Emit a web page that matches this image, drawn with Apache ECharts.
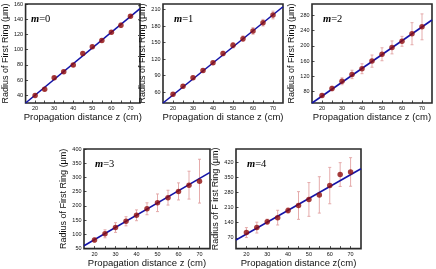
<!DOCTYPE html>
<html>
<head>
<meta charset="utf-8">
<script src="https://cdn.jsdelivr.net/npm/echarts@6/dist/echarts.min.js"></script>
<style>html,body{margin:0;padding:0;background:#fff;}#c{width:436px;height:269px;}</style>
</head>
<body>
<div id="c"></div>
<script>
// ---- data ----
const z = [20, 25, 30, 35, 40, 45, 50, 55, 60, 65, 70];
const r0 = [40, 48, 63, 71, 80, 95, 104, 112, 123, 132, 144];
const e0 = [2, 2, 2, 2, 2, 2, 2, 2, 2, 3, 2];
const r1 = [56, 70.5, 86, 99, 113, 130, 145, 157, 171, 186, 200];
const e1 = [3, 3, 3, 3, 3, 4, 5, 5, 6, 6, 7];
const r2 = [70, 88, 107, 125, 140, 160, 178, 196, 212, 232, 250];
const e2 = [4, 6, 9, 11, 13, 16, 17, 17, 13, 29, 34];
const r3 = [80, 102, 124, 146, 167, 190, 211, 229, 251, 273, 287];
const e3 = [7, 14, 17, 16, 19, 21, 31, 26, 30, 49, 77];
const r4 = [94, 117, 144, 163, 196, 219, 247, 268, 311, 362, 374];
const e4 = [23, 25, 12, 34, 12, 64, 78, 84, 84, 55, 66];
const fitZ = [15, 75];
const f0 = [30, 154];
const f1 = [40, 215];
const f2 = [50, 268];
const f3 = [60, 318];
const f4 = [60, 389];
const xTicks = [20, 30, 40, 50, 60, 70];
const xMinorTicks = [20, 25, 30, 35, 40, 45, 50, 55, 60, 65, 70];
const yTicks0 = [40, 60, 80, 100, 120, 140, 160];
const yTicks1 = [60, 90, 120, 150, 180, 210];
const yTicks2 = [80, 120, 160, 200, 240, 280];
const yTicks3 = [50, 100, 150, 200, 250, 300, 350, 400];
const yTicks4 = [70, 140, 210, 280, 350, 420];
const mLabels = ['0', '1', '2', '3', '4'];
const yNames = ['Radius of First Ring (\u03bcm)', 'Radius of First Ring (\u03bcm)', 'Radius of First Ring (\u03bcm)', 'Radius of First Ring (\u03bcm)', 'Radius of F irst Ring (\u03bcm)'];
const xNames = ['Propagation distance z (cm)', 'Propagation di stance z (cm)', 'Propagation distance z (cm)', 'Propagation distance z (cm)', 'Propagation distance z(cm)'];

// ---- layout ----
const panels = [
  {grid: {left: 20, top: 4, width: 120, height: 99}, yMin: 30, yMax: 160, yT: yTicks0, r: r0, e: e0, f: f0, gap: 10},
  {grid: {left: 163, top: 4, width: 120, height: 99}, yMin: 40, yMax: 220, yT: yTicks1, r: r1, e: e1, f: f1, gap: 12},
  {grid: {left: 312, top: 4, width: 120, height: 99}, yMin: 50, yMax: 310, yT: yTicks2, r: r2, e: e2, f: f2, gap: 13},
  {grid: {left: 84, top: 149, width: 126, height: 100}, yMin: 50, yMax: 400, yT: yTicks3, r: r3, e: e3, f: f3, gap: 14},
  {grid: {left: 236, top: 149, width: 125, height: 100}, yMin: 20, yMax: 480, yT: yTicks4, r: r4, e: e4, f: f4, gap: 12.5}
];

const font = '"Liberation Sans", Arial, sans-serif';
const grid = [], xAxis = [], yAxis = [], series = [], graphic = [];

panels.forEach((p, i) => {
  grid.push(Object.assign({show: true, borderColor: '#2a2a2a', borderWidth: 1.6, backgroundColor: '#fff', containLabel: false}, p.grid));
  xAxis.push({
    type: 'value', gridIndex: i, min: 15, max: 75,
    name: xNames[i], nameLocation: 'middle', nameGap: 5,
    nameTextStyle: {fontFamily: font, fontSize: 9.5, color: '#111', verticalAlign: 'top'},
    axisLine: {show: false},
    axisTick: {show: true, inside: true, length: 2.5, customValues: xMinorTicks, lineStyle: {color: '#222', width: 0.8}},
    axisLabel: {customValues: xTicks, fontFamily: font, fontSize: 5.5, color: '#111', margin: 2.5},
    splitLine: {show: false}
  });
  yAxis.push({
    type: 'value', gridIndex: i, min: p.yMin, max: p.yMax,
    name: yNames[i], nameLocation: 'middle', nameGap: p.gap, nameRotate: 90,
    nameTextStyle: {fontFamily: font, fontSize: 9, color: '#111'},
    axisLine: {show: false},
    axisTick: {show: true, inside: true, length: 2.5, customValues: p.yT, lineStyle: {color: '#222', width: 0.8}},
    axisLabel: {customValues: p.yT, fontFamily: font, fontSize: 5.5, color: '#111', margin: 2.5},
    splitLine: {show: false}
  });
  series.push({
    type: 'custom', xAxisIndex: i, yAxisIndex: i, z: 2,
    data: z.map((v, k) => [v, p.r[k] - p.e[k], p.r[k] + p.e[k]]),
    renderItem: function (params, api) {
      const lo = api.coord([api.value(0), api.value(1)]);
      const hi = api.coord([api.value(0), api.value(2)]);
      const w = 1.5;
      const st = {stroke: '#e2a3a3', lineWidth: 0.9};
      return {type: 'group', children: [
        {type: 'line', shape: {x1: lo[0], y1: lo[1], x2: hi[0], y2: hi[1]}, style: st},
        {type: 'line', shape: {x1: lo[0] - w, y1: lo[1], x2: lo[0] + w, y2: lo[1]}, style: st},
        {type: 'line', shape: {x1: hi[0] - w, y1: hi[1], x2: hi[0] + w, y2: hi[1]}, style: st}
      ]};
    }
  });
  series.push({
    type: 'line', xAxisIndex: i, yAxisIndex: i, z: 3, clip: true,
    data: fitZ.map((v, k) => [v, p.f[k]]),
    symbol: 'none', lineStyle: {color: '#1414a8', width: 1.6}, silent: true
  });
  series.push({
    type: 'scatter', xAxisIndex: i, yAxisIndex: i, z: 4,
    data: z.map((v, k) => [v, p.r[k]]),
    symbol: 'circle', symbolSize: 5.5, itemStyle: {color: '#8e0d0d'}
  });
  graphic.push({
    type: 'text', left: p.grid.left + 11, top: p.grid.top + 10, z: 100,
    style: {
      text: '{i|m}{n|=' + mLabels[i] + '}',
      rich: {
        i: {fontFamily: '"Liberation Serif", "Times New Roman", serif', fontStyle: 'italic', fontSize: 10.5, fill: '#000', fontWeight: 'bold'},
        n: {fontFamily: '"Liberation Serif", "Times New Roman", serif', fontSize: 10.5, fill: '#000'}
      }
    }
  });
});

const chart = echarts.init(document.getElementById('c'), null, {renderer: 'canvas'});
chart.setOption({animation: false, backgroundColor: '#fff', grid, xAxis, yAxis, series, graphic});
</script>
</body>
</html>
